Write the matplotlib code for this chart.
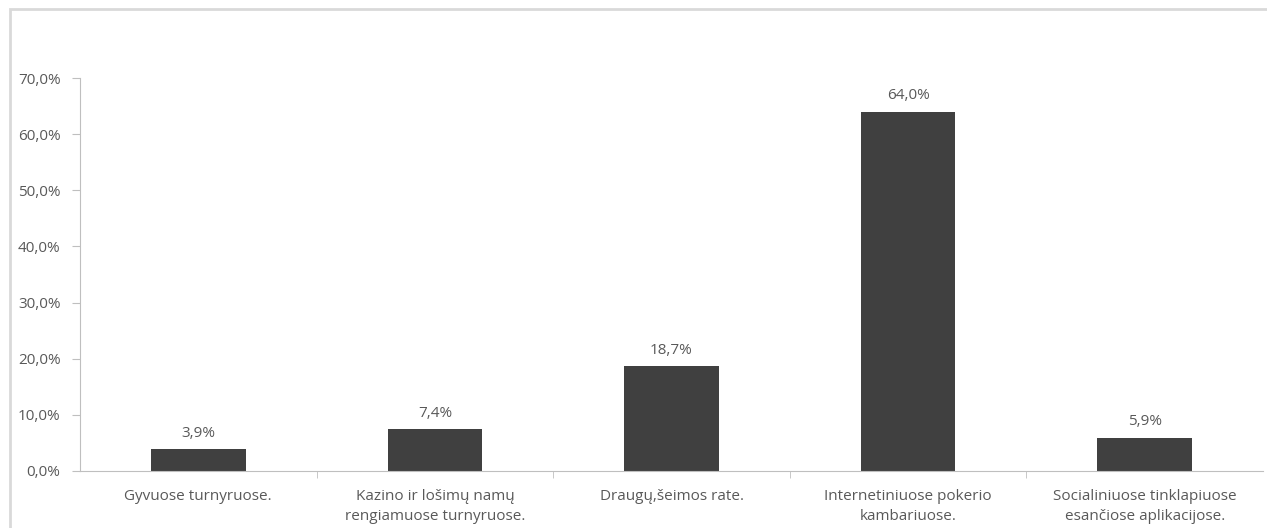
import matplotlib.pyplot as plt
from matplotlib.patches import Rectangle
from matplotlib.ticker import FuncFormatter

categories = ['Gyvuose turnyruose.',
              'Kazino ir lošimų namų\nrengiamuose turnyruose.',
              'Draugų,šeimos rate.',
              'Internetiniuose pokerio\nkambariuose.',
              'Socialiniuose tinklapiuose\nesančiose aplikacijose.']
values = [3.9, 7.4, 18.7, 64.0, 5.9]
yticks = [0, 10, 20, 30, 40, 50, 60, 70]

plt.rcParams['font.family'] = ['Open Sans', 'DejaVu Sans']
text_col = '#595959'
axis_col = '#bfbfbf'

W, H = 1267, 528
fig = plt.figure(figsize=(W / 100, H / 100), dpi=100)

# outer chart frame (cut off at right and bottom)
fig.patches.append(Rectangle((10 / W, -0.1), 1.2, (H - 9) / H + 0.1,
                             transform=fig.transFigure, fill=False,
                             edgecolor='#d9d9d9', linewidth=2))

ax = fig.add_axes([80 / W, 57 / H, 1183 / W, 393 / H])
x = range(len(categories))
ax.bar(x, values, width=0.4, color='#404040')

for i, v in enumerate(values):
    ax.text(i, v + 1.5, ('%.1f%%' % v).replace('.', ','), ha='center', va='bottom',
            fontsize=11, color=text_col)

ax.set_xlim(-0.5, len(categories) - 0.5)
ax.set_ylim(0, 70)
ax.set_yticks(yticks)
ax.yaxis.set_major_formatter(FuncFormatter(lambda v, p: ('%.1f%%' % v).replace('.', ',')))
ax.set_xticks(list(x))
ax.set_xticklabels(categories, fontsize=11, color=text_col, linespacing=1.45)
ax.set_xticks([i + 0.5 for i in range(len(categories) - 1)], minor=True)
ax.tick_params(axis='x', which='major', length=0, pad=13)
ax.tick_params(axis='x', which='minor', length=5, color=axis_col, direction='out')
ax.tick_params(axis='y', length=6, color=axis_col, labelsize=11, labelcolor=text_col, pad=8)

for s in ['top', 'right']:
    ax.spines[s].set_visible(False)
ax.spines['left'].set_color(axis_col)
ax.spines['bottom'].set_color(axis_col)

fig.savefig('out.png', dpi=100)
